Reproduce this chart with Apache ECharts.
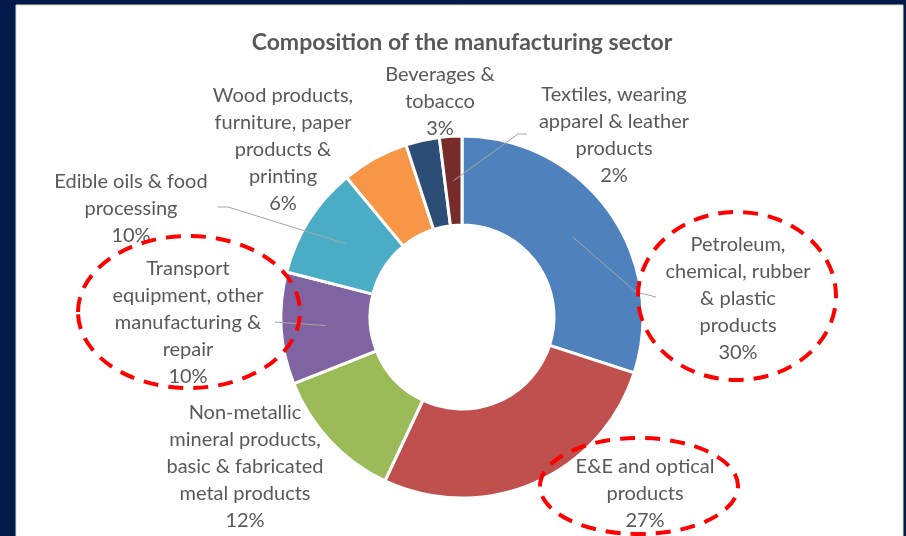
<!DOCTYPE html>
<html>
<head>
<meta charset="utf-8">
<script src="https://cdn.jsdelivr.net/npm/echarts@6/dist/echarts.min.js"></script>
<style>
  html, body { margin: 0; padding: 0; background: #021A4A; }
  #chart { width: 906px; height: 536px; }
</style>
</head>
<body>
<div id="chart"></div>
<script>
// Manufacturing sector shares (%), clockwise from 12 o'clock
const categories = [
  'Petroleum,\nchemical, rubber\n& plastic\nproducts',
  'E&E and optical\nproducts',
  'Non-metallic\nmineral products,\nbasic & fabricated\nmetal products',
  'Transport\nequipment, other\nmanufacturing &\nrepair',
  'Edible oils & food\nprocessing',
  'Wood products,\nfurniture, paper\nproducts &\nprinting',
  'Beverages &\ntobacco',
  'Textiles, wearing\napparel & leather\nproducts'
];
const shares = [30, 27, 12, 10, 10, 6, 3, 2];
const colors = ['#4F81BD', '#C0504D', '#9BBB59', '#8064A2', '#4BACC6', '#F79646', '#2C4D75', '#772C2A'];

// Donut geometry
const CX = 462, CY = 317, R_IN = 92, R_OUT = 181;

// Label block centres and the label-side path of each leader line (null = no leader)
const labelAt = [
  [738, 299], [645, 494], [245, 467], [188, 323],
  [131, 209], [283, 150], [440, 102], [614, 135]
];
const leaderEnd = [
  [[636, 292], [656, 297]],
  null,
  null,
  [[275, 322]],
  [[228, 207], [218, 207]],
  null,
  null,
  [[518, 134], [527, 134]]
];

const total = shares.reduce((a, b) => a + b, 0);
// Point on the middle of the ring at a slice's mid-angle
function midPoint(i) {
  let before = 0;
  for (let k = 0; k < i; k++) before += shares[k];
  const frac = (before + shares[i] / 2) / total;
  const ang = frac * 2 * Math.PI; // clockwise from top
  const r = (R_IN + R_OUT) / 2;
  return [CX + r * Math.sin(ang), CY - r * Math.cos(ang)];
}

const leaderLines = [];
leaderEnd.forEach((pts, i) => {
  if (!pts) return;
  leaderLines.push({
    type: 'polyline', z: 50,
    shape: { points: [midPoint(i)].concat(pts) },
    style: { fill: 'none', stroke: '#A6A6A6', lineWidth: 1 }
  });
});

const dashedRing = (cx, cy, rx, ry) => ({
  type: 'ellipse', z: 100, shape: { cx, cy, rx, ry },
  style: { fill: 'none', stroke: '#FF0000', lineWidth: 4, lineDash: [15, 10] }
});

const chart = echarts.init(document.getElementById('chart'));
chart.setOption({
  backgroundColor: 'transparent',
  animation: false,
  title: {
    text: 'Composition of the manufacturing sector',
    left: 457,
    top: 26,
    textAlign: 'center',
    textStyle: { fontFamily: 'Lato', fontSize: 23, fontWeight: 'bold', color: '#595959' }
  },
  graphic: [
    { type: 'rect', z: -10, shape: { x: 16, y: 5, width: 887, height: 540 },
      style: { fill: '#ffffff', stroke: '#d9d9d9', lineWidth: 1 } },
    dashedRing(189, 312, 111, 76),
    dashedRing(737, 296, 99, 84),
    dashedRing(639, 486, 99, 48)
  ].concat(leaderLines),
  series: [{
    type: 'pie',
    center: [CX, CY],
    radius: [R_IN, R_OUT],
    startAngle: 90,
    clockwise: true,
    avoidLabelOverlap: false,
    color: colors,
    itemStyle: { borderColor: '#ffffff', borderWidth: 3 },
    label: {
      show: true,
      formatter: p => p.name + '\n' + p.value + '%',
      fontFamily: 'Lato',
      fontSize: 20,
      lineHeight: 27,
      color: '#595959',
      align: 'center'
    },
    labelLine: { show: false },
    labelLayout: params => {
      const i = params.dataIndex;
      return {
        x: labelAt[i][0],
        y: labelAt[i][1],
        align: 'center',
        verticalAlign: 'middle'
      };
    },
    data: categories.map((name, i) => ({ name: name, value: shares[i] }))
  }]
});
</script>
</body>
</html>
